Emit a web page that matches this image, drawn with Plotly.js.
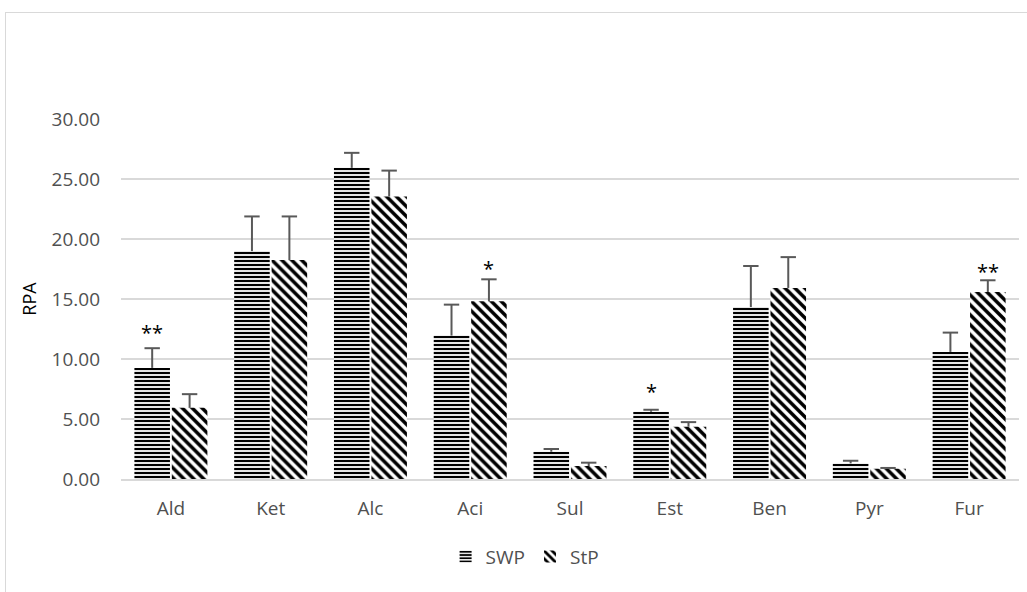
<!DOCTYPE html>
<html>
<head>
<meta charset="utf-8">
<script src="https://cdn.plot.ly/plotly-3.0.1.min.js"></script>
<style>
  html, body { margin:0; padding:0; background:#fff; overflow:hidden; }
  #chart { width:1027px; height:592px; }
  #frame { position:absolute; left:5px; top:12px; width:1100px; height:700px;
           border:1.5px solid #d9d9d9; pointer-events:none; }
</style>
</head>
<body>
<div id="chart"></div>
<div id="frame"></div>
<script>
const categories = ["Ald", "Ket", "Alc", "Aci", "Sul", "Est", "Ben", "Pyr", "Fur"];
const swpValues = [9.26, 18.99, 25.93, 11.95, 2.27, 5.60, 14.33, 1.30, 10.59];
const swpErrors = [1.64, 2.89, 1.25, 2.58, 0.23, 0.17, 3.42, 0.22, 1.61];
const stpValues = [5.93, 18.24, 23.54, 14.81, 1.08, 4.35, 15.92, 0.86, 15.58];
const stpErrors = [1.14, 3.64, 2.16, 1.83, 0.28, 0.39, 2.57, 0.06, 0.98];
const yTickValues = [0, 5, 10, 15, 20, 25, 30];
const yTickLabels = ["0.00", "5.00", "10.00", "15.00", "20.00", "25.00", "30.00"];
// significance marks: category, series (0 = SWP, 1 = StP), text, y position
const sigCategories = ["Ald", "Aci", "Est", "Fur"];
const sigSeries = [0, 1, 0, 1];
const sigText = ["**", "*", "*", "**"];
const sigY = [12.48, 17.8, 7.57, 17.55];

const FONT = "Open Sans, Liberation Sans, sans-serif";
const tickFont = {family: FONT, size: 19, color: "#505050"};

const BARGAP = 0.25;
const GROUPGAP = 0.05;
const nSeries = 2;
const slot = (1 - BARGAP) / nSeries;
// center offset of series s within a category
function offsetOf(s) { return -((1 - BARGAP) / 2) + slot * (s + 0.5); }

const idx = categories.map((c, i) => i);

function errorStems(values, errors, s) {
  const xs = [], ys = [];
  values.forEach((v, i) => {
    xs.push(i + offsetOf(s), i + offsetOf(s), null);
    ys.push(v, v + errors[i], null);
  });
  return {xs, ys};
}

const errColor = "#595959";
const sw = errorStems(swpValues, swpErrors, 0);
const st = errorStems(stpValues, stpErrors, 1);

const traces = [
  {
    type: "bar", name: "SWP", x: idx, y: swpValues,
    marker: {color: "white", line: {width: 0},
      pattern: {shape: "-", fgcolor: "black", bgcolor: "white", size: 4, solidity: 0.55}},
    hoverinfo: "none"
  },
  {
    type: "bar", name: "StP", x: idx, y: stpValues,
    marker: {color: "white", line: {width: 0},
      pattern: {shape: "\\", fgcolor: "black", bgcolor: "white", size: 7, solidity: 0.5}},
    hoverinfo: "none"
  },
  {type: "scatter", mode: "lines", x: sw.xs, y: sw.ys, showlegend: false, hoverinfo: "none",
   line: {color: errColor, width: 2}},
  {type: "scatter", mode: "lines", x: st.xs, y: st.ys, showlegend: false, hoverinfo: "none",
   line: {color: errColor, width: 2}},
  {type: "scatter", mode: "markers", x: idx.map(i => i + offsetOf(0)),
   y: swpValues.map((v, i) => v + swpErrors[i]), showlegend: false, hoverinfo: "none",
   marker: {symbol: "line-ew", size: 11, line: {color: errColor, width: 2}}},
  {type: "scatter", mode: "markers", x: idx.map(i => i + offsetOf(1)),
   y: stpValues.map((v, i) => v + stpErrors[i]), showlegend: false, hoverinfo: "none",
   marker: {symbol: "line-ew", size: 11, line: {color: errColor, width: 2}}}
];

const annotations = sigCategories.map((c, i) => ({
  x: categories.indexOf(c) + offsetOf(sigSeries[i]), y: sigY[i], xref: "x", yref: "y",
  text: sigText[i], showarrow: false,
  yanchor: "middle", yshift: -3,
  font: {family: FONT, size: 20, color: "#000"}
}));

const layout = {
  width: 1027, height: 592,
  margin: {l: 121, r: 8, t: 118.5, b: 113, pad: 0},
  paper_bgcolor: "white", plot_bgcolor: "white",
  barmode: "group", bargap: BARGAP, bargroupgap: GROUPGAP,
  showlegend: true,
  legend: {
    orientation: "h", x: 0.45, xanchor: "center", y: -0.216, yanchor: "middle",
    font: tickFont, itemwidth: 30, traceorder: "normal"
  },
  xaxis: {
    type: "linear", range: [-0.5, categories.length - 0.5],
    tickvals: idx, ticktext: categories,
    showgrid: false, zeroline: false, showline: true, linecolor: "#d9d9d9", linewidth: 1.5,
    ticks: "", tickfont: tickFont, ticklabelstandoff: 12, fixedrange: true
  },
  yaxis: {
    range: [0, 30], tickvals: yTickValues, ticktext: yTickLabels,
    showgrid: true, gridcolor: "#d9d9d9", gridwidth: 1.5,
    zeroline: false, showline: false, ticks: "", ticklen: 0,
    tickfont: tickFont, ticklabelstandoff: 20, fixedrange: true,
    title: {text: "RPA", standoff: 10,
      font: {family: FONT, size: 18, color: "#000"}}
  },
  annotations: annotations
};

Plotly.newPlot("chart", traces, layout, {displayModeBar: false, staticPlot: true});
</script>
</body>
</html>
